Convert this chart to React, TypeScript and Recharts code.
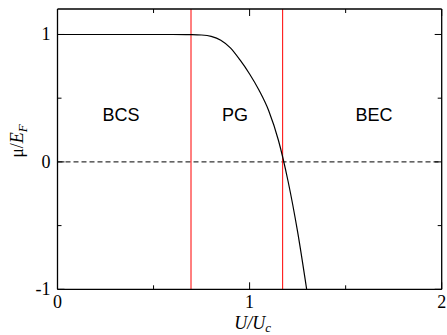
import {
  Label,
  Line,
  LineChart,
  ReferenceDot,
  ReferenceLine,
  XAxis,
  YAxis,
} from 'recharts';

// interaction strength U/Uc and chemical potential mu/EF
const uValues = [0, 0.2, 0.4, 0.6, 0.7, 0.75, 0.8, 0.85, 0.9, 0.95, 1.0, 1.05, 1.1, 1.15, 1.2, 1.25, 1.297];
const muValues = [1, 1, 1, 1, 0.999, 0.996, 0.985, 0.955, 0.895, 0.8, 0.69, 0.56, 0.4, 0.17, -0.15, -0.55, -1];

const xTicks = [0, 0.5, 1, 1.5, 2];
const yTicks = [-1, -0.5, 0, 0.5, 1];

// crossover boundaries between regimes
const boundaries = [0.695, 1.172];

const regionNames = ['BCS', 'PG', 'BEC'];
const regionX = [0.33, 0.924, 1.648];
const regionY = [0.37, 0.37, 0.37];

const serif = '"Liberation Serif", "Times New Roman", serif';
const sans = '"Liberation Sans", Arial, sans-serif';

const chartData = uValues.map((u, i) => ({ u, mu: muValues[i] }));

const isMajor = (v: number) => Number.isInteger(v);

const BottomTick = (props: any) => {
  const { x, y, payload } = props;
  const v = payload.value;
  return (
    <g>
      <line x1={x} y1={y} x2={x} y2={y - (isMajor(v) ? 7 : 4)} stroke="#000" />
      {isMajor(v) && (
        <text x={x} y={y + 19} textAnchor="middle" fontFamily={serif} fontSize={18} fill="#000">
          {v}
        </text>
      )}
    </g>
  );
};

const TopTick = (props: any) => {
  const { x, y, payload } = props;
  const v = payload.value;
  return <line x1={x} y1={y} x2={x} y2={y + (isMajor(v) ? 7 : 4)} stroke="#000" />;
};

const LeftTick = (props: any) => {
  const { x, y, payload } = props;
  const v = payload.value;
  return (
    <g>
      <line x1={x} y1={y} x2={x + (isMajor(v) ? 7 : 4)} y2={y} stroke="#000" />
      {isMajor(v) && (
        <text x={x - 7} y={y + 6} textAnchor="end" fontFamily={serif} fontSize={18} fill="#000">
          {v}
        </text>
      )}
    </g>
  );
};

const RightTick = (props: any) => {
  const { x, y, payload } = props;
  const v = payload.value;
  return <line x1={x} y1={y} x2={x - (isMajor(v) ? 7 : 4)} y2={y} stroke="#000" />;
};

const XLabel = (props: any) => {
  const { viewBox } = props;
  const cx = viewBox.x + viewBox.width / 2 + 3;
  return (
    <text x={cx} y={viewBox.y + 39.5} textAnchor="middle" fontFamily={serif} fontSize={18} fill="#000">
      <tspan fontStyle="italic">U/U</tspan>
      <tspan fontStyle="italic" fontSize={13} dy={3}>c</tspan>
    </text>
  );
};

const YLabel = () => {
  const cy = 141;
  return (
    <text
      x={23}
      y={cy}
      transform={`rotate(-90, 23, ${cy})`}
      textAnchor="middle"
      fontFamily={serif}
      fontSize={18}
      fill="#000"
    >
      <tspan>μ/</tspan>
      <tspan fontStyle="italic">E</tspan>
      <tspan fontStyle="italic" fontSize={13} dy={4}>F</tspan>
    </text>
  );
};

export default function App() {
  return (
    <div style={{ position: 'absolute', left: 0, top: 0, width: 447, height: 335, background: '#fff' }}>
      <LineChart
        width={447}
        height={335}
        data={chartData}
        margin={{ top: 8, right: 4.3, bottom: 44.7, left: 56.5 }}
      >
        <XAxis
          dataKey="u"
          type="number"
          domain={[0, 2]}
          ticks={xTicks}
          height={1}
          tickSize={0}
          tickMargin={0}
          tick={<BottomTick />}
          axisLine={{ stroke: '#000', strokeWidth: 1.3 }}
          allowDataOverflow
        >
          <Label content={<XLabel />} />
        </XAxis>
        <XAxis
          xAxisId="top"
          orientation="top"
          dataKey="u"
          type="number"
          domain={[0, 2]}
          ticks={xTicks}
          height={1}
          tickSize={0}
          tickMargin={0}
          tick={<TopTick />}
          axisLine={{ stroke: '#000', strokeWidth: 1.3 }}
          allowDataOverflow
        />
        <YAxis
          type="number"
          domain={[-1, 1.2]}
          ticks={yTicks}
          width={1}
          tickSize={0}
          tickMargin={0}
          tick={<LeftTick />}
          axisLine={{ stroke: '#000', strokeWidth: 1.3 }}
          allowDataOverflow
        >
          <Label content={<YLabel />} />
        </YAxis>
        <YAxis
          yAxisId="right"
          orientation="right"
          type="number"
          domain={[-1, 1.2]}
          ticks={yTicks}
          width={1}
          tickSize={0}
          tickMargin={0}
          tick={<RightTick />}
          axisLine={{ stroke: '#000', strokeWidth: 1.3 }}
          allowDataOverflow
        />
        <ReferenceLine y={0} stroke="#000" strokeDasharray="5 3" />
        {boundaries.map((b) => (
          <ReferenceLine key={b} x={b} stroke="#ff0000" strokeWidth={1} />
        ))}
        {regionNames.map((name, i) => (
          <ReferenceDot
            key={name}
            x={regionX[i]}
            y={regionY[i]}
            r={0}
            shape={(p: any) => (
              <text
                x={p.cx}
                y={p.cy}
                textAnchor="middle"
                dominantBaseline="central"
                fontFamily={sans}
                fontSize={18}
                fill="#000"
              >
                {name}
              </text>
            )}
          />
        ))}
        <Line
          dataKey="mu"
          type="monotone"
          stroke="#000"
          strokeWidth={1.2}
          dot={false}
          isAnimationActive={false}
        />
      </LineChart>
    </div>
  );
}
